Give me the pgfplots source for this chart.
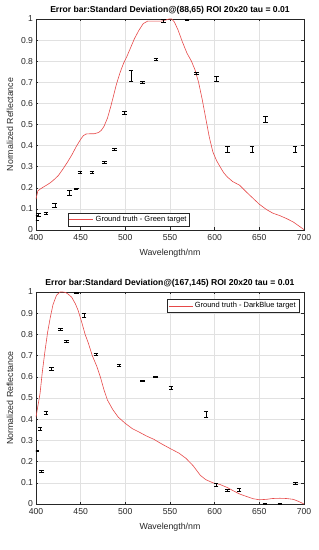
\documentclass[border=0pt]{standalone}
\usepackage{fontspec}
\setmainfont{Liberation Sans}
\newfontfamily\seriffont{Liberation Serif}
\usepackage{pgfplots}
\pgfplotsset{compat=1.18}
\definecolor{axgray}{RGB}{38,38,38}
\definecolor{gridgray}{RGB}{225,225,225}
\definecolor{curvered}{RGB}{230,72,72}

\pgfplotstableread{
x y
400 0.148
401 0.165
402 0.185
404 0.192
408 0.203
412 0.213
416 0.224
420 0.238
425 0.258
430 0.288
435 0.320
440 0.355
445 0.395
450 0.430
453 0.447
456 0.455
460 0.456
465 0.456
470 0.462
473 0.472
476 0.490
480 0.530
484 0.590
487 0.640
490 0.690
494 0.745
498 0.790
502 0.825
505 0.855
510 0.905
515 0.945
520 0.978
525 0.990
530 0.990
540 0.990
545 0.995
549 1.000
552 1.000
555 0.985
559 0.948
564 0.890
569 0.838
574 0.800
578 0.759
582 0.700
586 0.620
590 0.530
594 0.440
598 0.370
602 0.330
606 0.300
610 0.272
614 0.252
620 0.230
628 0.212
635 0.182
643 0.150
650 0.122
658 0.097
665 0.080
673 0.068
680 0.055
688 0.038
694 0.020
700 0.002
}\greencurve

\pgfplotstableread{
x y e
400.8 0.058 0.010
403.0 0.073 0.008
411.0 0.079 0.006
421.0 0.118 0.008
437.3 0.177 0.010
445.0 0.195 0.003
449.3 0.273 0.004
462.7 0.273 0.004
476.5 0.322 0.005
487.7 0.383 0.006
499.0 0.556 0.005
506.3 0.731 0.024
519.0 0.699 0.005
534.2 0.809 0.006
542.6 0.992 0.005
569.0 0.997 0.004
579.8 0.743 0.004
602.0 0.715 0.012
614.6 0.382 0.014
642.0 0.382 0.013
657.0 0.527 0.014
690.0 0.382 0.014
}\greenbars

\pgfplotstableread{
x y
400 0.410
402 0.460
404.5 0.520
407 0.620
410 0.720
413 0.810
416 0.880
419 0.940
423 0.985
427 1.000
430 1.000
433 0.998
436 0.990
440 0.975
444 0.945
447 0.915
451 0.860
455 0.800
458.5 0.760
463 0.700
468 0.650
472 0.600
476 0.540
480 0.490
486 0.445
492 0.410
500 0.380
508 0.355
516 0.338
524 0.320
532 0.305
540 0.285
550 0.262
560 0.240
568 0.215
576 0.180
584 0.135
590 0.115
598 0.100
606 0.092
614 0.078
621 0.062
628 0.047
636 0.035
643 0.025
650 0.020
658 0.022
665 0.026
673 0.027
680 0.026
688 0.022
694 0.012
700 0.000
}\bluecurve

\pgfplotstableread{
x y e
400.7 0.252 0.004
404.5 0.354 0.006
406.4 0.154 0.003
411.0 0.430 0.008
417.6 0.637 0.008
427.2 0.824 0.004
434.0 0.769 0.004
445.5 0.998 0.003
453.7 0.890 0.008
467.0 0.708 0.005
493.0 0.656 0.005
519.0 0.582 0.004
534.0 0.600 0.004
551.0 0.549 0.006
590.4 0.424 0.014
601.6 0.091 0.006
614.6 0.065 0.004
627.3 0.067 0.006
656.4 0.002 0.003
673.0 0.001 0.003
690.4 0.098 0.003
}\bluebars

\pgfplotsset{mystyle/.style={
  scale only axis, width=268pt,
  xmin=400, xmax=700, ymin=0, ymax=1,
  xtick={400,450,500,550,600,650,700},
  ytick={0,0.1,0.2,0.3,0.4,0.5,0.6,0.7,0.8,0.9,1},
  grid=major, grid style={gridgray, line width=0.4pt},
  axis line style={axgray, line width=0.5pt},
  tick style={axgray, line width=0.4pt},
  major tick length=2.5pt,
  tick align=inside,
  tick label style={font=\fontsize{8.6}{10}\selectfont, text=axgray},
  /pgf/number format/assume math mode=true,
  yticklabel style={/pgf/number format/fixed, /pgf/number format/precision=1, xshift=0.5pt},
  xticklabel style={yshift=-0.5pt},
  xlabel={Wavelength/nm}, ylabel={Normalized Reflectance},
  every axis x label/.style={at={(axis description cs:0.5,-0.109)}, anchor=center},
  every axis y label/.style={at={(axis description cs:-0.097,0.5)}, rotate=90, anchor=center},
  label style={font=\fontsize{8.8}{10}\selectfont, text=axgray},
  every axis title/.style={at={(axis description cs:0.5,1)}, anchor=center, yshift=8.5pt, font=\bfseries\fontsize{8.6}{10}\selectfont, text=black},
  legend style={font=\fontsize{7.5}{8.5}\selectfont, draw=axgray, line width=0.4pt, inner sep=1pt, row sep=0pt},
  legend cell align=left,
  legend image code/.code={\draw[#1] (0pt,0pt) -- (24pt,0pt);},
  errstyle/.style={draw=none, mark=none, line width=0.45pt,
     error bars/y dir=both, error bars/y explicit,
     error bars/error mark=|,
     error bars/error bar style={draw=black, line width=0.45pt},
     error bars/error mark options={draw=black, mark size=2.3pt, line width=0.45pt}},
}}

\begin{document}
\begin{tikzpicture}
\useasboundingbox (0pt,0pt) rectangle (319pt,550pt);
\begin{axis}[mystyle, height=211pt, at={(36pt,320pt)}, anchor=south west,
  title={Error bar:Standard Deviation@(88,65) ROI 20x20 tau = 0.01},
  legend style={at={(0.119,0.019)}, anchor=south west}]
\addplot[curvered, line width=0.6pt] table[x=x,y=y] {\greencurve};
\addlegendentry{Ground truth - Green target}
\addplot[forget plot, errstyle] table[x=x,y=y,y error=e] {\greenbars};
\node[font=\seriffont\bfseries\fontsize{8.5}{10}\selectfont, text=black] at (rel axis cs:0.48,0) [yshift=-36.5pt] {(b)};
\end{axis}
\begin{axis}[mystyle, height=212pt, at={(36pt,46pt)}, anchor=south west,
  title={Error bar:Standard Deviation@(167,145) ROI 20x20 tau = 0.01},
  legend style={at={(0.981,0.966)}, anchor=north east}]
\addplot[curvered, line width=0.6pt] table[x=x,y=y] {\bluecurve};
\addlegendentry{Ground truth - DarkBlue target}
\addplot[forget plot, errstyle] table[x=x,y=y,y error=e] {\bluebars};
\node[font=\seriffont\bfseries\fontsize{8.5}{10}\selectfont, text=black] at (rel axis cs:0.48,0) [yshift=-36.5pt] {(c)};
\end{axis}
\end{tikzpicture}
\end{document}
